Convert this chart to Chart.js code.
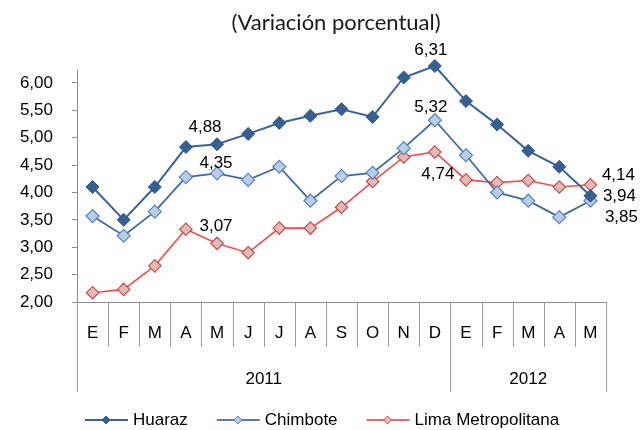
<!DOCTYPE html>
<html>
<head>
<meta charset="utf-8">
<script src="https://cdn.jsdelivr.net/npm/chart.js@4.4.1/dist/chart.umd.min.js"></script>
<style>
  html, body { margin: 0; padding: 0; background: #ffffff; }
  #wrap { width: 640px; height: 430px; }
</style>
</head>
<body>
<div id="wrap"><canvas id="chart" width="640" height="430"></canvas></div>
<script>
// Meses (categorías) y años
const months = ['E', 'F', 'M', 'A', 'M', 'J', 'J', 'A', 'S', 'O', 'N', 'D', 'E', 'F', 'M', 'A', 'M'];
const yearLabels = ['2011', '2012'];
const yearSpans = [12, 5];

// Series (variación porcentual)
const huaraz = [4.10, 3.50, 4.10, 4.83, 4.88, 5.07, 5.27, 5.40, 5.52, 5.38, 6.10, 6.31, 5.67, 5.24, 4.76, 4.47, 3.94];
const chimbote = [3.57, 3.21, 3.65, 4.28, 4.35, 4.23, 4.47, 3.85, 4.30, 4.36, 4.81, 5.32, 4.68, 4.00, 3.85, 3.55, 3.85];
const lima = [2.17, 2.23, 2.66, 3.33, 3.07, 2.90, 3.35, 3.35, 3.73, 4.20, 4.65, 4.74, 4.23, 4.18, 4.22, 4.10, 4.14];

// Etiquetas del eje Y
const yTicks = [2.00, 2.50, 3.00, 3.50, 4.00, 4.50, 5.00, 5.50, 6.00];

const titleText = '(Variación porcentual)';

// Puntos con etiqueta de valor: serie, índice, desplazamiento
const valueLabels = [
  { ds: 0, i: 4, dx: -12, dy: -17 },
  { ds: 1, i: 4, dx: -1, dy: -10 },
  { ds: 2, i: 4, dx: -1, dy: -17 },
  { ds: 0, i: 11, dx: -4, dy: -16 },
  { ds: 1, i: 11, dx: -4, dy: -13 },
  { ds: 2, i: 11, dx: 3, dy: 22 },
  { ds: 2, i: 16, dx: 28, dy: -10 },
  { ds: 0, i: 16, dx: 29, dy: 1 },
  { ds: 1, i: 16, dx: 31, dy: 17 }
];

const axisGray = '#8c8c8c';
const textFont = '17px "Liberation Sans", Arial, sans-serif';

function fmt(v) {
  return v.toFixed(2).replace('.', ',');
}

// Dibuja título, eje X de dos niveles, etiquetas y leyenda
const decorPlugin = {
  id: 'decor',
  afterDraw(chart) {
    const ctx = chart.ctx;
    const xs = chart.scales.x;
    const area = chart.chartArea;
    const catW = xs.getPixelForValue(1) - xs.getPixelForValue(0);
    const base = area.bottom;

    ctx.save();

    // título
    ctx.fillStyle = '#1a1a1a';
    ctx.font = '22px Lato, "Open Sans", sans-serif';
    ctx.textAlign = 'center';
    ctx.textBaseline = 'middle';
    ctx.fillText(titleText, 336, 23);

    // líneas separadoras de meses y años
    const yearBounds = [0];
    yearSpans.forEach(s => yearBounds.push(yearBounds[yearBounds.length - 1] + s));
    ctx.strokeStyle = '#9a9a9a';
    ctx.lineWidth = 1;
    for (let i = 0; i <= months.length; i++) {
      const x = Math.round(xs.getPixelForValue(i) - catW / 2) + 0.5;
      const long = yearBounds.includes(i);
      ctx.beginPath();
      ctx.moveTo(x, base);
      ctx.lineTo(x, base + (long ? 90 : 45));
      ctx.stroke();
    }

    // etiquetas de meses
    ctx.fillStyle = '#000000';
    ctx.font = textFont;
    months.forEach((m, i) => {
      ctx.fillText(m, xs.getPixelForValue(i), base + 31);
    });

    // etiquetas de años
    yearLabels.forEach((y, k) => {
      const a = yearBounds[k], b = yearBounds[k + 1];
      const x = (xs.getPixelForValue(a) + xs.getPixelForValue(b - 1)) / 2;
      ctx.fillText(y, x, base + 77);
    });

    // etiquetas de valores
    valueLabels.forEach(l => {
      const pt = chart.getDatasetMeta(l.ds).data[l.i];
      const v = chart.data.datasets[l.ds].data[l.i];
      ctx.fillText(fmt(v), pt.x + l.dx, pt.y + l.dy);
    });

    // leyenda
    let lx = 85;
    const ly = 420;
    ctx.textAlign = 'left';
    chart.data.datasets.forEach(ds => {
      ctx.strokeStyle = ds.legendLine;
      ctx.lineWidth = 2;
      ctx.beginPath();
      ctx.moveTo(lx, ly);
      ctx.lineTo(lx + 43, ly);
      ctx.stroke();
      const mx = lx + 21, r = 4;
      ctx.beginPath();
      ctx.moveTo(mx - r, ly);
      ctx.lineTo(mx, ly - r);
      ctx.lineTo(mx + r, ly);
      ctx.lineTo(mx, ly + r);
      ctx.closePath();
      ctx.fillStyle = ds.pointBackgroundColor;
      ctx.fill();
      ctx.strokeStyle = ds.pointBorderColor;
      ctx.lineWidth = 1;
      ctx.stroke();
      ctx.fillStyle = '#000000';
      ctx.fillText(ds.label, lx + 48, ly);
      lx += 48 + ctx.measureText(ds.label).width + 29;
    });

    ctx.restore();
  }
};

const ctx = document.getElementById('chart').getContext('2d');

new Chart(ctx, {
  type: 'line',
  data: {
    labels: months,
    datasets: [
      {
        label: 'Huaraz',
        data: huaraz,
        borderColor: '#3a6399',
        borderWidth: 2,
        pointStyle: 'rectRot',
        pointRadius: 6.5,
        pointBackgroundColor: '#35608f',
        pointBorderColor: '#2f5785',
        pointBorderWidth: 1,
        legendLine: '#3a6399',
        clip: false
      },
      {
        label: 'Chimbote',
        data: chimbote,
        borderColor: '#4169a0',
        borderWidth: 1.8,
        pointStyle: 'rectRot',
        pointRadius: 6.5,
        pointBackgroundColor: '#b9cde5',
        pointBorderColor: '#5584c2',
        pointBorderWidth: 1.2,
        legendLine: '#5b7fb3',
        clip: false
      },
      {
        label: 'Lima Metropolitana',
        data: lima,
        borderColor: '#f24c4c',
        borderWidth: 1.6,
        pointStyle: 'rectRot',
        pointRadius: 6.2,
        pointBackgroundColor: '#e6b9b8',
        pointBorderColor: '#c0504d',
        pointBorderWidth: 1.2,
        legendLine: '#f06a6a',
        clip: false
      }
    ]
  },
  options: {
    responsive: false,
    animation: false,
    layout: {
      padding: { top: 70, right: 34, bottom: 0, left: 0 }
    },
    plugins: {
      legend: { display: false },
      tooltip: { enabled: false }
    },
    scales: {
      x: {
        offset: true,
        grid: { display: false },
        border: { display: true, color: axisGray, width: 1 },
        ticks: { display: false },
        afterFit: function (scale) {
          scale.height = 128;
        }
      },
      y: {
        min: 2,
        max: 6.237,
        afterBuildTicks: function (scale) {
          scale.ticks = yTicks.map(v => ({ value: v }));
        },
        afterFit: function (scale) {
          scale.width = 77;
        },
        grid: {
          drawOnChartArea: false,
          drawTicks: true,
          tickLength: 5,
          color: axisGray
        },
        border: { display: true, color: axisGray, width: 1 },
        ticks: {
          padding: 19,
          color: '#000000',
          font: { family: '"Liberation Sans", Arial, sans-serif', size: 17 },
          callback: function (value) {
            return fmt(value);
          }
        }
      }
    }
  },
  plugins: [decorPlugin]
});
</script>
</body>
</html>
